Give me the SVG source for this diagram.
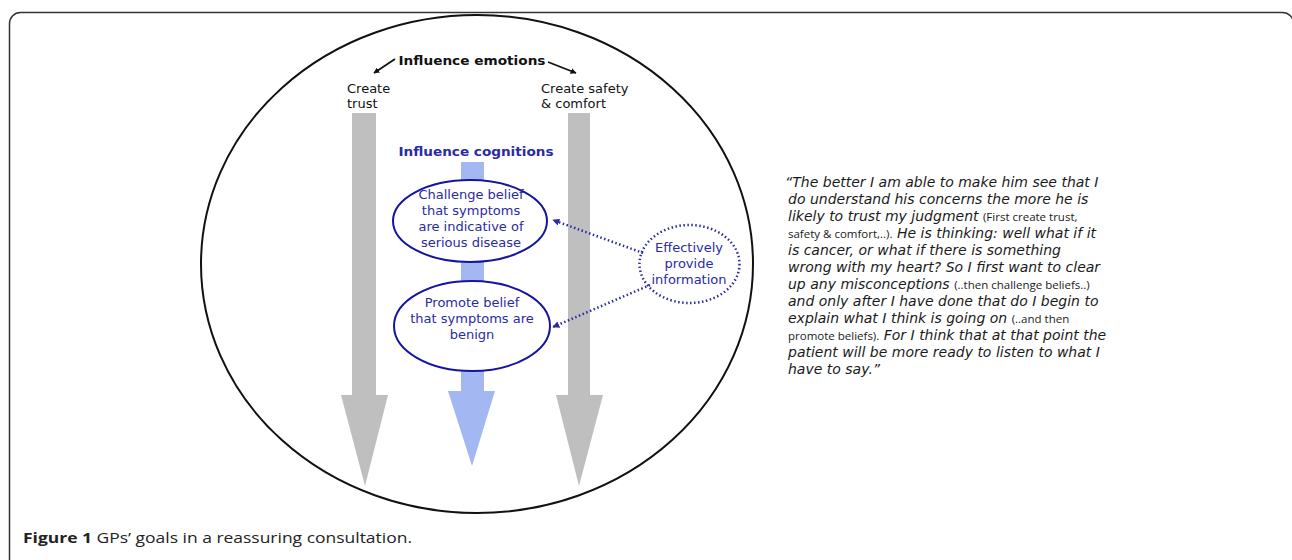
<svg xmlns="http://www.w3.org/2000/svg" width="1292" height="560" viewBox="0 0 1292 560">
<style>
.lbl{font-family:"DejaVu Sans",Verdana,sans-serif;font-size:13px;fill:#111}
.bold{font-weight:bold}
.blue{fill:#2a2aa6}
.node{fill:#fff;stroke:#1414a0;stroke-width:2}
.dot{fill:none;stroke:#2a2aa6;stroke-width:2.5;stroke-dasharray:1.5 2.5}
.quote{font-family:"DejaVu Sans",Verdana,sans-serif;font-size:14px;font-style:italic;fill:#1a1a1a}
.sm{font-family:"Open Sans","Liberation Sans",sans-serif;font-size:11.5px;font-style:normal;fill:#1a1a1a}
.gray{fill:#bfbfbf}
.lb{fill:#a3b8f2}
</style>
<defs>
<marker id="ah" viewBox="0 0 10 10" refX="9" refY="5" markerWidth="6" markerHeight="6" orient="auto" markerUnits="userSpaceOnUse">
<path d="M0,0 L10,5 L0,10 z" fill="#111"/>
</marker>
<marker id="bh" viewBox="0 0 10 10" refX="9" refY="5" markerWidth="7" markerHeight="7" orient="auto" markerUnits="userSpaceOnUse">
<path d="M0,0 L10,5 L0,10 z" fill="#2a2aa6"/>
</marker>
</defs>
<rect width="1292" height="560" fill="#fff"/>
<rect x="9.5" y="12.5" width="1284" height="600" rx="11" fill="none" stroke="#333" stroke-width="1.5"/>
<g id="outer">
<ellipse cx="477" cy="264" rx="276" ry="249" fill="none" stroke="#111" stroke-width="2"/>
</g>
<g id="arrow-trust">
<path class="gray" d="M352,113 H376 V395 H388 L365,486 L341,395 H352 Z"/>
</g>
<g id="arrow-safety">
<path class="gray" d="M568,113 H590 V395 H603 L579,486 L556,395 H568 Z"/>
</g>
<g id="arrow-cognitions">
<path class="lb" d="M461,162 H484 V391 H495 L472,466 L448,391 H461 Z"/>
</g>
<g id="influence-emotions">
<text class="lbl bold" x="472" y="65" text-anchor="middle" textLength="147" lengthAdjust="spacingAndGlyphs">Influence emotions</text>
</g>
<g id="create-trust">
<text class="lbl" x="347" y="93">Create</text>
<text class="lbl" x="347" y="108">trust</text>
</g>
<g id="create-safety">
<text class="lbl" x="541" y="93">Create safety</text>
<text class="lbl" x="541" y="108">&amp; comfort</text>
</g>
<g id="influence-cognitions">
<text class="lbl bold blue" x="476" y="156" text-anchor="middle" textLength="155" lengthAdjust="spacingAndGlyphs">Influence cognitions</text>
</g>
<g id="challenge">
<ellipse class="node" cx="470" cy="221" rx="77" ry="41"/>
<text class="lbl blue" text-anchor="middle"><tspan x="471" y="199">Challenge belief</tspan><tspan x="471" y="215">that symptoms</tspan><tspan x="471" y="231">are indicative of</tspan><tspan x="471" y="247">serious disease</tspan></text>
</g>
<g id="promote">
<ellipse class="node" cx="472" cy="326" rx="78" ry="45"/>
<text class="lbl blue" text-anchor="middle"><tspan x="472" y="307">Promote belief</tspan><tspan x="472" y="323">that symptoms are</tspan><tspan x="472" y="339">benign</tspan></text>
</g>
<g id="provide-info">
<ellipse class="dot" cx="689.5" cy="264" rx="50" ry="39"/>
<text class="lbl blue" text-anchor="middle"><tspan x="689" y="252">Effectively</tspan><tspan x="689" y="268">provide</tspan><tspan x="689" y="284">information</tspan></text>
</g>
<g id="connectors">
<line x1="395" y1="59" x2="374" y2="73" stroke="#111" stroke-width="1.8" marker-end="url(#ah)"/>
<line x1="548" y1="62" x2="576" y2="73" stroke="#111" stroke-width="1.8" marker-end="url(#ah)"/>
<line class="dot" x1="643" y1="253" x2="553" y2="220" marker-end="url(#bh)"/>
<line class="dot" x1="650" y1="285" x2="553" y2="327" marker-end="url(#bh)"/>
</g>
<g id="quote">
<text class="quote" x="785" y="187">“The better I am able to make him see that I</text>
<text class="quote" x="788" y="204">do understand his concerns the more he is</text>
<text class="quote" x="788" y="221">likely to trust my judgment <tspan class="sm">(First create trust,</tspan></text>
<text class="quote" x="788" y="238"><tspan class="sm">safety &amp; comfort,..).</tspan> He is thinking: well what if it</text>
<text class="quote" x="788" y="255">is cancer, or what if there is something</text>
<text class="quote" x="788" y="272">wrong with my heart? So I first want to clear</text>
<text class="quote" x="788" y="289">up any misconceptions <tspan class="sm">(..then challenge beliefs..)</tspan></text>
<text class="quote" x="788" y="306">and only after I have done that do I begin to</text>
<text class="quote" x="788" y="323">explain what I think is going on <tspan class="sm">(..and then</tspan></text>
<text class="quote" x="788" y="340"><tspan class="sm">promote beliefs).</tspan> For I think that at that point the</text>
<text class="quote" x="788" y="357">patient will be more ready to listen to what I</text>
<text class="quote" x="788" y="374">have to say.”</text>
</g>
<g id="caption">
<text x="23" y="543" font-family="'Open Sans','Liberation Sans',sans-serif" font-size="14.5" fill="#222" textLength="389" lengthAdjust="spacingAndGlyphs"><tspan font-weight="bold">Figure 1</tspan> GPs’ goals in a reassuring consultation.</text>
</g>
</svg>
